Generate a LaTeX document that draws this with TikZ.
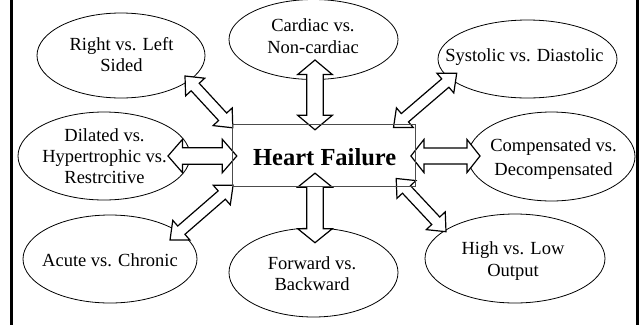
\documentclass[tikz,border=0pt]{standalone}
\usepackage{fontspec}
\setmainfont{Liberation Serif}
\usetikzlibrary{shapes.geometric,calc}

\tikzset{
  ell/.style={ellipse, draw, line width=0.8pt, inner sep=0pt},
  txt/.style={font=\fontsize{18.5}{21}\selectfont, inner sep=0pt, anchor=base},
  hftxt/.style={font=\fontsize{24.5}{28}\selectfont\bfseries, inner sep=0pt, anchor=base},
  hfbox/.style={inner sep=0pt, minimum width=182.5pt, minimum height=61pt},
  hfline/.style={draw=black!70, line width=0.9pt},
  blockarr/.style={draw, fill=white, line width=1.2pt, line join=miter},
  frameline/.style={line width=3pt},
}

% block double arrow between two named coordinates
% #1 A, #2 B, #3 shaft half width, #4 head half width, #5 head length
\newcommand{\blockarrow}[5]{%
  \draw[blockarr] (#1)
    -- ($(#1)!#5!(#2)!#4!90:(#2)$)
    -- ($(#1)!#5!(#2)!#3!90:(#2)$)
    -- ($(#2)!#5!(#1)!#3!-90:(#1)$)
    -- ($(#2)!#5!(#1)!#4!-90:(#1)$)
    -- (#2)
    -- ($(#2)!#5!(#1)!#4!90:(#1)$)
    -- ($(#2)!#5!(#1)!#3!90:(#1)$)
    -- ($(#1)!#5!(#2)!#3!-90:(#2)$)
    -- ($(#1)!#5!(#2)!#4!-90:(#2)$)
    -- cycle;}

\begin{document}
\begin{tikzpicture}[x=1pt, y=-1pt]
\useasboundingbox (0,0) rectangle (640,325);

% frame sides
\draw[frameline] (11.5,0) -- (11.5,325);
\draw[frameline] (637.5,0) -- (637.5,325);

% ellipses
\node[ell, minimum width=168pt, minimum height=85pt] (rl)   at (121,55.5)   {};
\node[ell, minimum width=169pt, minimum height=80pt] (card) at (313.5,39.5) {};
\node[ell, minimum width=179pt, minimum height=78pt] (sys)  at (527.5,59)   {};
\node[ell, minimum width=172pt, minimum height=88pt] (dil)  at (104,156)    {};
\node[ell, minimum width=167pt, minimum height=89pt] (comp) at (551.5,156.5){};
\node[ell, minimum width=174pt, minimum height=88pt] (acu)  at (110,259)    {};
\node[ell, minimum width=169pt, minimum height=89pt] (fwd)  at (313.5,272.5){};
\node[ell, minimum width=180pt, minimum height=89pt] (high) at (515,258.5)  {};

% texts
\node[txt] (rlA) at (121.5,50) {Right vs. Left};
\node[txt] (rlB) at (121.5,71.7) {Sided};
\node[txt] (cardA) at (313,31.7) {Cardiac vs.};
\node[txt] (cardB) at (313,53.3) {Non-cardiac};
\node[txt] (sysA) at (524.5,61.7) {Systolic vs. Diastolic};
\node[txt] (dilA) at (104.5,141.7) {Dilated vs.};
\node[txt] (dilB) at (104.5,162.7) {Hypertrophic vs.};
\node[txt] (dilC) at (104.5,183.5) {Restrcitive};
\node[txt] (compA) at (553.5,151.7) {Compensated vs.};
\node[txt] (compB) at (553.5,175) {Decompensated};
\node[txt] (acuA) at (110,266) {Acute vs. Chronic};
\node[txt] (fwdA) at (312,269.3) {Forward vs.};
\node[txt] (fwdB) at (312,290.7) {Backward};
\node[txt] (highA) at (513,254.3) {High vs. Low};
\node[txt] (highB) at (513,276.7) {Output};

% central box (outline drawn on top of the arrows)
\node[hfbox] (hf) at (323.75,155.5) {};

% arrow end points
\coordinate (a1s) at ($(rl)+(64,20.5)$);
\coordinate (a1e) at ($(hf.north west)+(0.5,3)$);
\coordinate (a2s) at ($(card)+(1.5,20.5)$);
\coordinate (a2e) at ($(hf.north)+(-8.75,5)$);
\coordinate (a3s) at ($(sys)+(-70.8,14.3)$);
\coordinate (a3e) at ($(hf.north east)+(-21.7,2.7)$);
\coordinate (a4s) at ($(dil)+(64,0)$);
\coordinate (a4e) at ($(hf.west)+(4.5,0.5)$);
\coordinate (a5s) at ($(comp)+(-71.5,-0.5)$);
\coordinate (a5e) at ($(hf.east)+(-4.3,0.5)$);
\coordinate (a6s) at ($(acu)+(60,-19)$);
\coordinate (a6e) at ($(hf.south west)+(0.8,-1)$);
\coordinate (a7s) at ($(fwd)+(1.5,-29.8)$);
\coordinate (a7e) at ($(hf.south)+(-8.75,-13)$);
\coordinate (a8s) at ($(high)+(-69,-26.8)$);
\coordinate (a8e) at ($(hf.south east)+(-19,-7.7)$);

% block arrows
\blockarrow{a1s}{a1e}{5.5pt}{13pt}{15pt}
\blockarrow{a2s}{a2e}{8.3pt}{17.3pt}{14.5pt}
\blockarrow{a3s}{a3e}{5.5pt}{13pt}{15pt}
\blockarrow{a4s}{a4e}{8.3pt}{16.7pt}{14.5pt}
\blockarrow{a5s}{a5e}{8pt}{16.5pt}{13pt}
\blockarrow{a6s}{a6e}{5.5pt}{13pt}{15pt}
\blockarrow{a7s}{a7e}{8.3pt}{17.3pt}{14pt}
\blockarrow{a8s}{a8e}{5.5pt}{13pt}{15pt}

\draw[hfline] (hf.north west) rectangle (hf.south east);
\node[hftxt] (hfT) at (324.7,165) {Heart Failure};
\end{tikzpicture}
\end{document}
